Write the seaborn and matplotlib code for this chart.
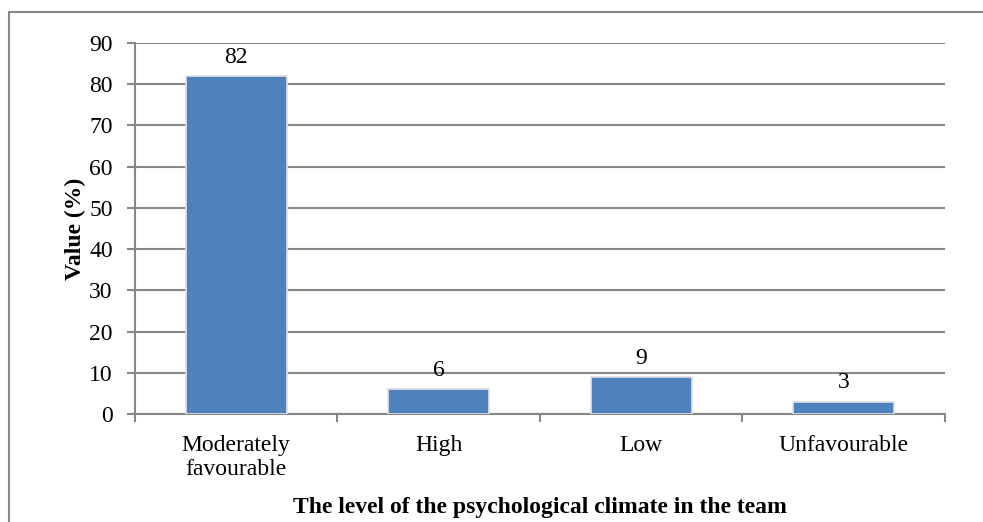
import pandas as pd
import matplotlib
matplotlib.use("Agg")
import matplotlib.pyplot as plt
import seaborn as sns
from matplotlib.lines import Line2D

# data
levels = ["Moderately\nfavourable", "High", "Low", "Unfavourable"]
values = [82, 6, 9, 3]
y_ticks = [0, 10, 20, 30, 40, 50, 60, 70, 80, 90]

df = pd.DataFrame({"level": levels, "value": values})

sns.set_style("white")
plt.rcParams["font.family"] = ["Liberation Serif", "DejaVu Serif"]
plt.rcParams["text.color"] = "black"
plt.rcParams["xtick.labelcolor"] = "black"
plt.rcParams["ytick.labelcolor"] = "black"
plt.rcParams["axes.labelcolor"] = "black"

fig = plt.figure(figsize=(9.83, 5.22), dpi=100)
ax = fig.add_axes([0.1373, 0.2069, 0.8240, 0.7107])

sns.barplot(data=df, x="level", y="value", color="#4F81BD", width=0.5,
            edgecolor="#e2e2e2", linewidth=1.2, saturation=1, ax=ax, zorder=3)

ax.set_ylim(0, 90)
ax.set_xlim(-0.5, 3.5)
ax.set_yticks(y_ticks)
ax.yaxis.grid(True, color="#878787", linewidth=1.5, zorder=0)
ax.set_axisbelow(True)

for side in ["top", "right"]:
    ax.spines[side].set_visible(False)
for side in ["left", "bottom"]:
    ax.spines[side].set_color("#878787")
    ax.spines[side].set_linewidth(1.5)

ax.tick_params(axis="y", direction="out", length=6, width=1.5, color="#878787",
               labelsize=17, pad=10, left=True)
ax.tick_params(axis="x", which="major", length=0, labelsize=17, pad=15)
ax.set_xticks([-0.5, 0.5, 1.5, 2.5, 3.5], minor=True)
ax.tick_params(axis="x", which="minor", direction="out", length=6, width=1.5,
               color="#878787", bottom=True)

for c in ax.containers:
    ax.bar_label(c, labels=[str(v) for v in values], padding=6, fontsize=17)

ax.set_xlabel("The level of the psychological climate in the team",
              fontsize=17, fontweight="bold", labelpad=12)
ax.set_ylabel("Value (%)", fontsize=17, fontweight="bold", labelpad=2)

# chart area border (cropped at right and bottom)
fig.add_artist(Line2D([0.0092, 0.0092], [0.977, 0.0], transform=fig.transFigure,
                      color="#878787", linewidth=1.5))
fig.add_artist(Line2D([0.0092, 1.0], [0.977, 0.977], transform=fig.transFigure,
                      color="#878787", linewidth=1.5))

fig.savefig("out.png", dpi=100)
